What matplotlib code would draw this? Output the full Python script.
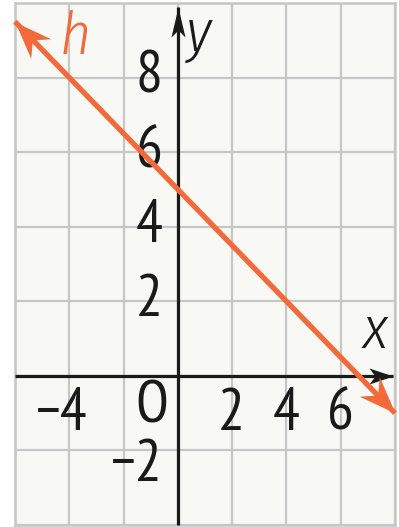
import matplotlib
matplotlib.use("Agg")
import matplotlib.pyplot as plt
import numpy as np
from matplotlib.path import Path
from matplotlib.markers import MarkerStyle
from matplotlib.transforms import Affine2D

# ---- data ----
x_range = [-6, 8]
y_range = [-4, 10]
grid_step = 2
h_x = [-6.0, 8.0]
h_y = [9.5, -1.0]
x_tick_vals = [-4, 2, 4, 6]
y_tick_vals = [8, 6, 4, 2, -2]
x_axis_end = 7.93
y_axis_end = 9.9
line_label = "h"

FONT = ["PT Sans Narrow", "DejaVu Sans"]
IFONT = ["Fira Sans Condensed", "Roboto Condensed", "DejaVu Sans"]
ORANGE = "#f3693a"
INK = "#1a1a1a"
GRIDC = "#c6c6c6"
BG = "#f8f8f4"

fig = plt.figure(figsize=(3.99, 5.27), dpi=100)
fig.patch.set_facecolor("white")
ax = fig.add_axes([15 / 399, 2 / 527, 380 / 399, 522 / 527])
ax.set_xlim(*x_range)
ax.set_ylim(*y_range)
ax.set_facecolor(BG)
ax.set_xticks(np.arange(x_range[0], x_range[1] + 1, grid_step))
ax.set_yticks(np.arange(y_range[0], y_range[1] + 1, grid_step))
ax.tick_params(length=0, labelbottom=False, labelleft=False)
ax.grid(True, color=GRIDC, linewidth=1.6)
for s in ax.spines.values():
    s.set_color(GRIDC)
    s.set_linewidth(1.8)


def arrowhead(x, y, dx, dy, L, W, N, color, z):
    p0 = ax.transData.transform((x, y))
    p1 = ax.transData.transform((x + dx, y + dy))
    ang = np.degrees(np.arctan2(p1[1] - p0[1], p1[0] - p0[0]))
    verts = [(0, 0), (-L, W), (-N, 0), (-L, -W), (0, 0)]
    codes = [Path.MOVETO, Path.LINETO, Path.LINETO, Path.LINETO, Path.CLOSEPOLY]
    m = MarkerStyle(Path(verts, codes), transform=Affine2D().rotate_deg(ang))
    ax.plot([x], [y], marker=m, markersize=2 * L * 0.72, color=color,
            markeredgewidth=0, linestyle="none", clip_on=False, zorder=z)


# axes
ax.plot([x_range[0], x_axis_end], [0, 0], color=INK, lw=2.3, zorder=3,
        solid_capstyle="butt", clip_on=False)
ax.plot([0, 0], [y_range[0], y_axis_end], color=INK, lw=2.3, zorder=3,
        solid_capstyle="butt", clip_on=False)
arrowhead(x_axis_end, 0, 1, 0, 24, 8, 18, INK, 4)
arrowhead(0, y_axis_end, 0, 1, 30, 7, 23, INK, 4)

# line h
ax.plot(h_x, h_y, color=ORANGE, lw=3.8, zorder=5, solid_capstyle="butt",
        clip_on=False)
arrowhead(h_x[0], h_y[0], h_x[0] - h_x[1], h_y[0] - h_y[1], 37, 14, 25, ORANGE, 6)
arrowhead(h_x[1], h_y[1], h_x[1] - h_x[0], h_y[1] - h_y[0], 37, 14, 25, ORANGE, 6)

FS = 43
# tick labels
for v in x_tick_vals:
    txt = str(v).replace("-", "\u2212")
    if v < 0:
        ax.annotate(txt, (v, 0), xytext=(13, -28), textcoords="offset points",
                    ha="right", va="center", fontsize=FS, family=FONT, color=INK)
    else:
        ax.annotate(txt, (v, 0), xytext=(-0.5, -28), textcoords="offset points",
                    ha="center", va="center", fontsize=FS, family=FONT, color=INK)
ax.annotate("O", (0, 0), xytext=(-7, -23), textcoords="offset points",
            ha="right", va="center", fontsize=FS, family=FONT, color=INK)
for v in y_tick_vals:
    txt = str(v).replace("-", "\u2212")
    dy = -11 if v < 0 else 0
    ax.annotate(txt, (0, v), xytext=(-11, dy), textcoords="offset points",
                ha="right", va="center", fontsize=FS, family=FONT, color=INK)

# axis names
ax.annotate("y", (0, y_axis_end), xytext=(6, -20), textcoords="offset points",
            ha="left", va="center", fontsize=FS, family=IFONT, style="italic",
            weight=300, color=INK)
ax.annotate("x", (x_axis_end, 0), xytext=(-13, 32), textcoords="offset points",
            ha="center", va="center", fontsize=FS, family=IFONT, style="italic",
            weight=300, color=INK)
ax.annotate(line_label, (h_x[0], h_y[0]), xytext=(43, -12),
            textcoords="offset points", ha="center", va="center", fontsize=FS,
            family=IFONT, style="italic", weight=300, color=ORANGE)

fig.savefig("out.png", dpi=100, facecolor="white")
